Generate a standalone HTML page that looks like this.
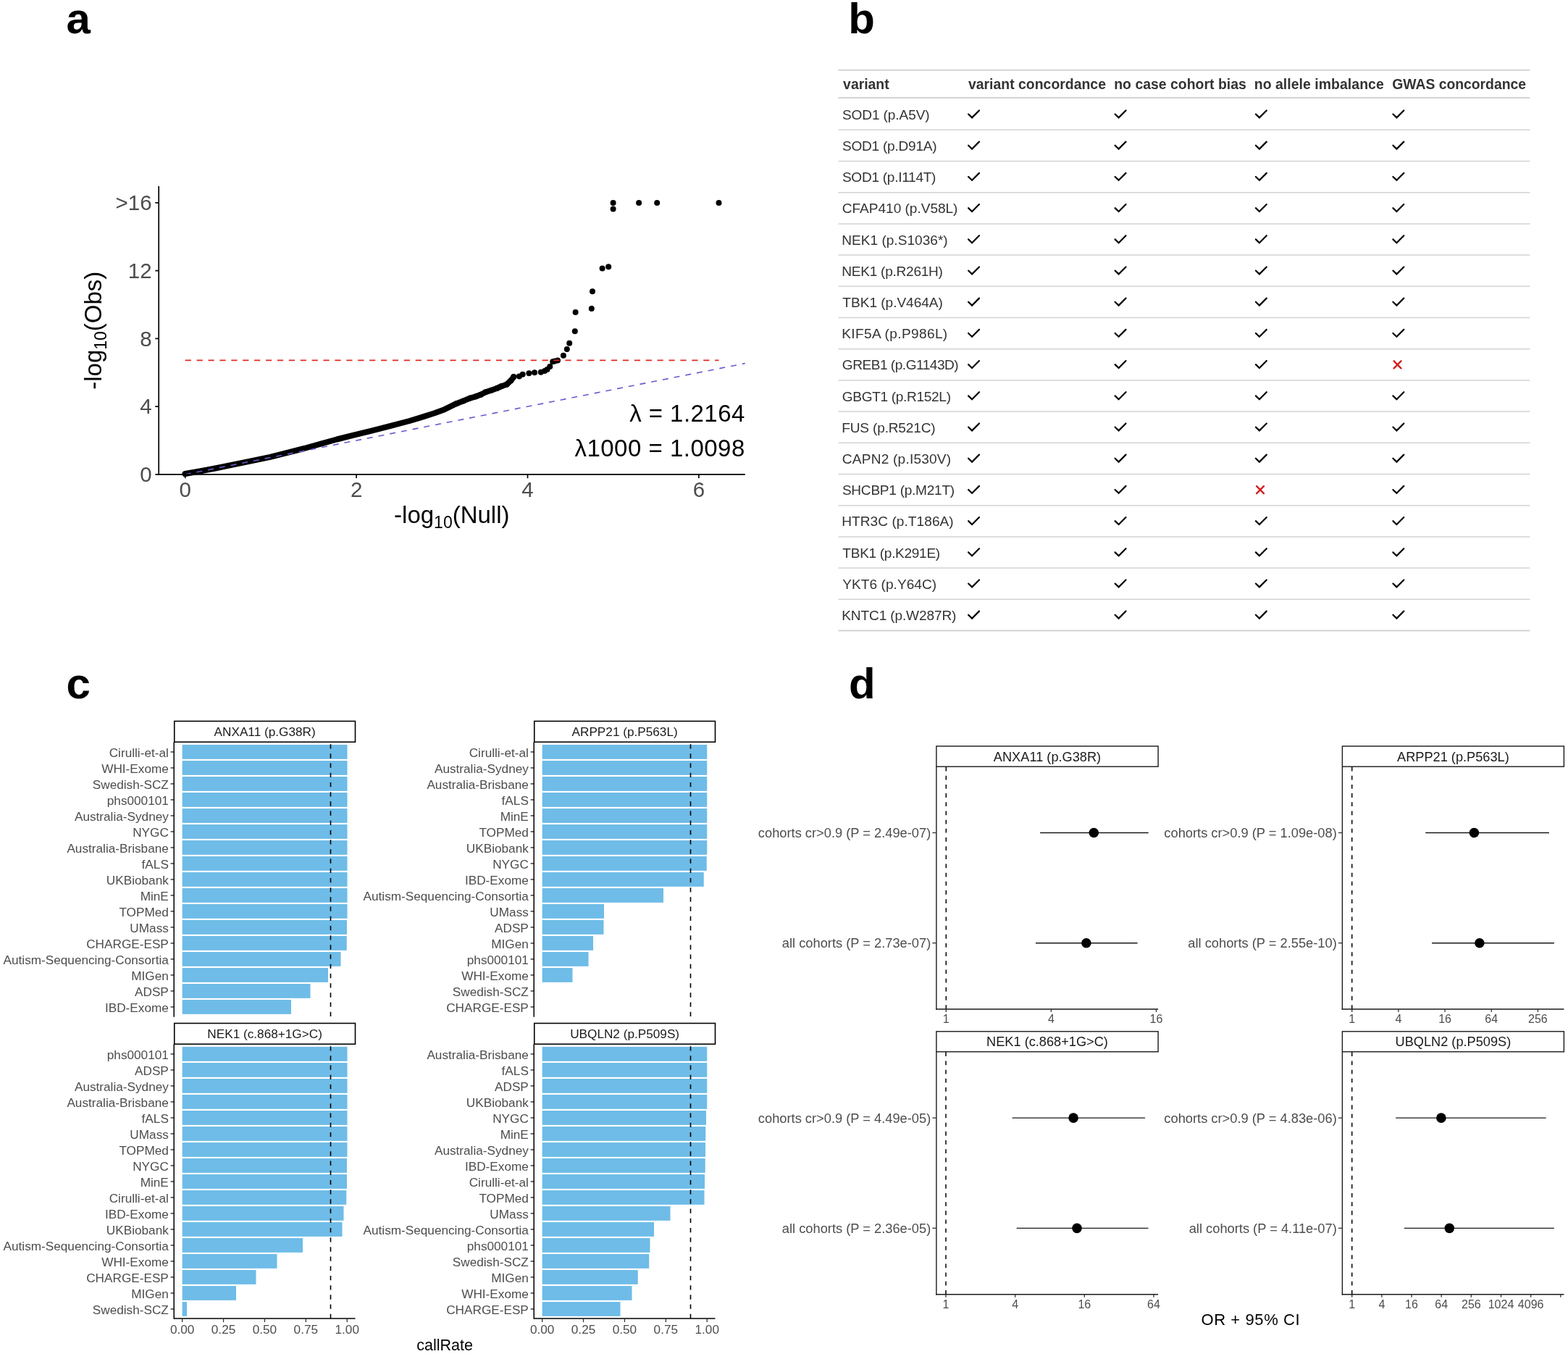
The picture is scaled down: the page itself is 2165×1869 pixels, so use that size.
<!DOCTYPE html>
<html><head><meta charset="utf-8"><title>Figure</title>
<style>
html,body{margin:0;padding:0;background:#fff;}
body{width:2165px;height:1869px;overflow:hidden;}
svg{display:block;font-family:'Liberation Sans', Arial, Helvetica, sans-serif;}
</style></head>
<body>
<svg width="2165" height="1869" viewBox="0 0 2165 1869">
<rect width="2165" height="1869" fill="#fff"/>
<text x="91.50" y="45.80" font-size="60" fill="#000" text-anchor="start" font-weight="bold">a</text>
<text x="1171.30" y="45.50" font-size="60" fill="#000" text-anchor="start" font-weight="bold">b</text>
<text x="91.50" y="963.60" font-size="60" fill="#000" text-anchor="start" font-weight="bold">c</text>
<text x="1172.00" y="963.60" font-size="60" fill="#000" text-anchor="start" font-weight="bold">d</text>
<polyline points="255.5,654.0 277.0,650.3 298.3,646.3 322.0,641.4 346.5,636.3 373.0,630.9 394.8,625.4 420.0,619.0 443.0,612.6 465.0,606.5 488.3,600.6 512.0,594.8 536.5,588.6 565.5,581.0 584.8,575.1 600.0,570.3 613.7,565.2 630.0,557.2 639.7,553.4 649.3,549.5 657.0,547.3 663.8,544.7 670.5,541.3 678.3,538.7 686.0,536.0 692.7,533.0 699.5,530.8 705.3,525.4 709.2,520.5" fill="none" stroke="#000" stroke-width="8.0" stroke-linejoin="round" stroke-linecap="round"/>
<circle cx="630.00" cy="557.20" r="4.0" fill="#000"/>
<circle cx="639.70" cy="553.40" r="4.0" fill="#000"/>
<circle cx="649.30" cy="549.50" r="4.0" fill="#000"/>
<circle cx="657.00" cy="547.30" r="4.0" fill="#000"/>
<circle cx="663.80" cy="544.70" r="4.0" fill="#000"/>
<circle cx="670.50" cy="541.30" r="4.0" fill="#000"/>
<circle cx="678.30" cy="538.70" r="4.0" fill="#000"/>
<circle cx="686.00" cy="536.00" r="4.0" fill="#000"/>
<circle cx="692.70" cy="533.00" r="4.0" fill="#000"/>
<circle cx="699.50" cy="530.80" r="4.0" fill="#000"/>
<circle cx="705.30" cy="525.40" r="4.0" fill="#000"/>
<circle cx="709.20" cy="520.10" r="4.0" fill="#000"/>
<circle cx="716.90" cy="519.60" r="4.0" fill="#000"/>
<circle cx="721.70" cy="516.70" r="4.0" fill="#000"/>
<circle cx="730.40" cy="515.20" r="4.0" fill="#000"/>
<circle cx="738.10" cy="514.30" r="4.0" fill="#000"/>
<circle cx="746.80" cy="513.80" r="4.0" fill="#000"/>
<circle cx="752.00" cy="512.00" r="4.0" fill="#000"/>
<circle cx="755.50" cy="509.90" r="4.0" fill="#000"/>
<circle cx="759.30" cy="506.10" r="4.0" fill="#000"/>
<circle cx="763.20" cy="499.30" r="4.0" fill="#000"/>
<circle cx="766.00" cy="498.50" r="4.0" fill="#000"/>
<circle cx="770.00" cy="497.40" r="4.0" fill="#000"/>
<circle cx="777.90" cy="490.70" r="4.0" fill="#000"/>
<circle cx="782.80" cy="482.00" r="4.0" fill="#000"/>
<circle cx="786.20" cy="473.70" r="4.0" fill="#000"/>
<circle cx="793.80" cy="457.20" r="4.0" fill="#000"/>
<circle cx="794.60" cy="431.10" r="4.0" fill="#000"/>
<circle cx="816.80" cy="425.90" r="4.0" fill="#000"/>
<circle cx="818.00" cy="402.30" r="4.0" fill="#000"/>
<circle cx="831.60" cy="370.40" r="4.0" fill="#000"/>
<circle cx="840.20" cy="368.20" r="4.0" fill="#000"/>
<circle cx="846.60" cy="288.40" r="4.0" fill="#000"/>
<circle cx="846.60" cy="280.00" r="4.0" fill="#000"/>
<circle cx="882.10" cy="280.00" r="4.0" fill="#000"/>
<circle cx="907.20" cy="280.00" r="4.0" fill="#000"/>
<circle cx="992.50" cy="280.00" r="4.0" fill="#000"/>
<line x1="255.70" y1="654.90" x2="1028.80" y2="501.59" stroke="#6A5ACD" stroke-width="1.6" stroke-dasharray="8,8"/>
<line x1="255.70" y1="497.40" x2="992.50" y2="497.40" stroke="#E02A20" stroke-width="1.9" stroke-dasharray="8.2,7.7"/>
<line x1="219.20" y1="257.00" x2="219.20" y2="655.70" stroke="#000" stroke-width="1.7"/>
<line x1="218.40" y1="654.90" x2="1028.80" y2="654.90" stroke="#000" stroke-width="1.7"/>
<line x1="214.30" y1="654.90" x2="219.20" y2="654.90" stroke="#000" stroke-width="1.7"/>
<text x="209.60" y="665.20" font-size="29.5" fill="#4D4D4D" text-anchor="end">0</text>
<line x1="214.30" y1="561.14" x2="219.20" y2="561.14" stroke="#000" stroke-width="1.7"/>
<text x="209.60" y="571.44" font-size="29.5" fill="#4D4D4D" text-anchor="end">4</text>
<line x1="214.30" y1="467.38" x2="219.20" y2="467.38" stroke="#000" stroke-width="1.7"/>
<text x="209.60" y="477.68" font-size="29.5" fill="#4D4D4D" text-anchor="end">8</text>
<line x1="214.30" y1="373.62" x2="219.20" y2="373.62" stroke="#000" stroke-width="1.7"/>
<text x="209.60" y="383.92" font-size="29.5" fill="#4D4D4D" text-anchor="end">12</text>
<line x1="214.30" y1="279.86" x2="219.20" y2="279.86" stroke="#000" stroke-width="1.7"/>
<text x="209.60" y="290.16" font-size="29.5" fill="#4D4D4D" text-anchor="end">&gt;16</text>
<line x1="255.70" y1="654.90" x2="255.70" y2="660.10" stroke="#000" stroke-width="1.7"/>
<text x="255.70" y="685.60" font-size="29.5" fill="#4D4D4D" text-anchor="middle">0</text>
<line x1="492.10" y1="654.90" x2="492.10" y2="660.10" stroke="#000" stroke-width="1.7"/>
<text x="492.10" y="685.60" font-size="29.5" fill="#4D4D4D" text-anchor="middle">2</text>
<line x1="728.50" y1="654.90" x2="728.50" y2="660.10" stroke="#000" stroke-width="1.7"/>
<text x="728.50" y="685.60" font-size="29.5" fill="#4D4D4D" text-anchor="middle">4</text>
<line x1="964.90" y1="654.90" x2="964.90" y2="660.10" stroke="#000" stroke-width="1.7"/>
<text x="964.90" y="685.60" font-size="29.5" fill="#4D4D4D" text-anchor="middle">6</text>
<text x="623.8" y="721.8" font-size="33" fill="#000" text-anchor="middle">-log<tspan font-size="23" dy="7">10</tspan><tspan dy="-7">(Null)</tspan></text>
<text transform="translate(140.3,456.2) rotate(-90)" font-size="33" fill="#000" text-anchor="middle">-log<tspan font-size="23" dy="7">10</tspan><tspan dy="-7">(Obs)</tspan></text>
<text x="1028.30" y="582.40" font-size="33" fill="#000" text-anchor="end" textLength="159.14" lengthAdjust="spacing">λ = 1.2164</text>
<text x="1028.30" y="629.90" font-size="33" fill="#000" text-anchor="end" textLength="234.86" lengthAdjust="spacing">λ1000 = 1.0098</text>
<line x1="1157.50" y1="96.80" x2="2112.50" y2="96.80" stroke="#D3D3D3" stroke-width="2"/>
<text x="1164.10" y="122.90" font-size="19.4" fill="#333333" text-anchor="start" font-weight="bold" textLength="63.58" lengthAdjust="spacing">variant</text>
<text x="1336.90" y="122.90" font-size="19.4" fill="#333333" text-anchor="start" font-weight="bold" textLength="190.05" lengthAdjust="spacing">variant concordance</text>
<text x="1538.24" y="122.90" font-size="19.4" fill="#333333" text-anchor="start" font-weight="bold" textLength="182.57" lengthAdjust="spacing">no case cohort bias</text>
<text x="1731.74" y="122.90" font-size="19.4" fill="#333333" text-anchor="start" font-weight="bold" textLength="178.95" lengthAdjust="spacing">no allele imbalance</text>
<text x="1922.22" y="122.90" font-size="19.4" fill="#333333" text-anchor="start" font-weight="bold" textLength="184.76" lengthAdjust="spacing">GWAS concordance</text>
<line x1="1157.50" y1="135.00" x2="2112.50" y2="135.00" stroke="#D3D3D3" stroke-width="2"/>
<text x="1162.89" y="164.80" font-size="19.1" fill="#333333" text-anchor="start" textLength="120.78" lengthAdjust="spacing">SOD1 (p.A5V)</text>
<path d="M1337.10,157.55 L1342.10,162.40 L1352.00,152.45" stroke="#000" stroke-width="2.2" stroke-linecap="round" stroke-linejoin="miter" fill="none"/>
<path d="M1539.60,157.55 L1544.60,162.40 L1554.50,152.45" stroke="#000" stroke-width="2.2" stroke-linecap="round" stroke-linejoin="miter" fill="none"/>
<path d="M1733.90,157.55 L1738.90,162.40 L1748.80,152.45" stroke="#000" stroke-width="2.2" stroke-linecap="round" stroke-linejoin="miter" fill="none"/>
<path d="M1923.40,157.55 L1928.40,162.40 L1938.30,152.45" stroke="#000" stroke-width="2.2" stroke-linecap="round" stroke-linejoin="miter" fill="none"/>
<line x1="1157.50" y1="179.30" x2="2112.50" y2="179.30" stroke="#D3D3D3" stroke-width="1.5"/>
<text x="1162.89" y="208.00" font-size="19.1" fill="#333333" text-anchor="start" textLength="130.81" lengthAdjust="spacing">SOD1 (p.D91A)</text>
<path d="M1337.10,200.75 L1342.10,205.60 L1352.00,195.65" stroke="#000" stroke-width="2.2" stroke-linecap="round" stroke-linejoin="miter" fill="none"/>
<path d="M1539.60,200.75 L1544.60,205.60 L1554.50,195.65" stroke="#000" stroke-width="2.2" stroke-linecap="round" stroke-linejoin="miter" fill="none"/>
<path d="M1733.90,200.75 L1738.90,205.60 L1748.80,195.65" stroke="#000" stroke-width="2.2" stroke-linecap="round" stroke-linejoin="miter" fill="none"/>
<path d="M1923.40,200.75 L1928.40,205.60 L1938.30,195.65" stroke="#000" stroke-width="2.2" stroke-linecap="round" stroke-linejoin="miter" fill="none"/>
<line x1="1157.50" y1="222.50" x2="2112.50" y2="222.50" stroke="#D3D3D3" stroke-width="1.5"/>
<text x="1162.89" y="251.20" font-size="19.1" fill="#333333" text-anchor="start" textLength="129.58" lengthAdjust="spacing">SOD1 (p.I114T)</text>
<path d="M1337.10,243.95 L1342.10,248.80 L1352.00,238.85" stroke="#000" stroke-width="2.2" stroke-linecap="round" stroke-linejoin="miter" fill="none"/>
<path d="M1539.60,243.95 L1544.60,248.80 L1554.50,238.85" stroke="#000" stroke-width="2.2" stroke-linecap="round" stroke-linejoin="miter" fill="none"/>
<path d="M1733.90,243.95 L1738.90,248.80 L1748.80,238.85" stroke="#000" stroke-width="2.2" stroke-linecap="round" stroke-linejoin="miter" fill="none"/>
<path d="M1923.40,243.95 L1928.40,248.80 L1938.30,238.85" stroke="#000" stroke-width="2.2" stroke-linecap="round" stroke-linejoin="miter" fill="none"/>
<line x1="1157.50" y1="265.70" x2="2112.50" y2="265.70" stroke="#D3D3D3" stroke-width="1.5"/>
<text x="1162.80" y="294.40" font-size="19.1" fill="#333333" text-anchor="start" textLength="159.68" lengthAdjust="spacing">CFAP410 (p.V58L)</text>
<path d="M1337.10,287.15 L1342.10,292.00 L1352.00,282.05" stroke="#000" stroke-width="2.2" stroke-linecap="round" stroke-linejoin="miter" fill="none"/>
<path d="M1539.60,287.15 L1544.60,292.00 L1554.50,282.05" stroke="#000" stroke-width="2.2" stroke-linecap="round" stroke-linejoin="miter" fill="none"/>
<path d="M1733.90,287.15 L1738.90,292.00 L1748.80,282.05" stroke="#000" stroke-width="2.2" stroke-linecap="round" stroke-linejoin="miter" fill="none"/>
<path d="M1923.40,287.15 L1928.40,292.00 L1938.30,282.05" stroke="#000" stroke-width="2.2" stroke-linecap="round" stroke-linejoin="miter" fill="none"/>
<line x1="1157.50" y1="308.90" x2="2112.50" y2="308.90" stroke="#D3D3D3" stroke-width="1.5"/>
<text x="1162.22" y="337.60" font-size="19.1" fill="#333333" text-anchor="start" textLength="146.45" lengthAdjust="spacing">NEK1 (p.S1036*)</text>
<path d="M1337.10,330.35 L1342.10,335.20 L1352.00,325.25" stroke="#000" stroke-width="2.2" stroke-linecap="round" stroke-linejoin="miter" fill="none"/>
<path d="M1539.60,330.35 L1544.60,335.20 L1554.50,325.25" stroke="#000" stroke-width="2.2" stroke-linecap="round" stroke-linejoin="miter" fill="none"/>
<path d="M1733.90,330.35 L1738.90,335.20 L1748.80,325.25" stroke="#000" stroke-width="2.2" stroke-linecap="round" stroke-linejoin="miter" fill="none"/>
<path d="M1923.40,330.35 L1928.40,335.20 L1938.30,325.25" stroke="#000" stroke-width="2.2" stroke-linecap="round" stroke-linejoin="miter" fill="none"/>
<line x1="1157.50" y1="352.10" x2="2112.50" y2="352.10" stroke="#D3D3D3" stroke-width="1.5"/>
<text x="1162.22" y="380.80" font-size="19.1" fill="#333333" text-anchor="start" textLength="139.74" lengthAdjust="spacing">NEK1 (p.R261H)</text>
<path d="M1337.10,373.55 L1342.10,378.40 L1352.00,368.45" stroke="#000" stroke-width="2.2" stroke-linecap="round" stroke-linejoin="miter" fill="none"/>
<path d="M1539.60,373.55 L1544.60,378.40 L1554.50,368.45" stroke="#000" stroke-width="2.2" stroke-linecap="round" stroke-linejoin="miter" fill="none"/>
<path d="M1733.90,373.55 L1738.90,378.40 L1748.80,368.45" stroke="#000" stroke-width="2.2" stroke-linecap="round" stroke-linejoin="miter" fill="none"/>
<path d="M1923.40,373.55 L1928.40,378.40 L1938.30,368.45" stroke="#000" stroke-width="2.2" stroke-linecap="round" stroke-linejoin="miter" fill="none"/>
<line x1="1157.50" y1="395.30" x2="2112.50" y2="395.30" stroke="#D3D3D3" stroke-width="1.5"/>
<text x="1163.37" y="424.00" font-size="19.1" fill="#333333" text-anchor="start" textLength="138.56" lengthAdjust="spacing">TBK1 (p.V464A)</text>
<path d="M1337.10,416.75 L1342.10,421.60 L1352.00,411.65" stroke="#000" stroke-width="2.2" stroke-linecap="round" stroke-linejoin="miter" fill="none"/>
<path d="M1539.60,416.75 L1544.60,421.60 L1554.50,411.65" stroke="#000" stroke-width="2.2" stroke-linecap="round" stroke-linejoin="miter" fill="none"/>
<path d="M1733.90,416.75 L1738.90,421.60 L1748.80,411.65" stroke="#000" stroke-width="2.2" stroke-linecap="round" stroke-linejoin="miter" fill="none"/>
<path d="M1923.40,416.75 L1928.40,421.60 L1938.30,411.65" stroke="#000" stroke-width="2.2" stroke-linecap="round" stroke-linejoin="miter" fill="none"/>
<line x1="1157.50" y1="438.50" x2="2112.50" y2="438.50" stroke="#D3D3D3" stroke-width="1.5"/>
<text x="1162.22" y="467.20" font-size="19.1" fill="#333333" text-anchor="start" textLength="145.99" lengthAdjust="spacing">KIF5A (p.P986L)</text>
<path d="M1337.10,459.95 L1342.10,464.80 L1352.00,454.85" stroke="#000" stroke-width="2.2" stroke-linecap="round" stroke-linejoin="miter" fill="none"/>
<path d="M1539.60,459.95 L1544.60,464.80 L1554.50,454.85" stroke="#000" stroke-width="2.2" stroke-linecap="round" stroke-linejoin="miter" fill="none"/>
<path d="M1733.90,459.95 L1738.90,464.80 L1748.80,454.85" stroke="#000" stroke-width="2.2" stroke-linecap="round" stroke-linejoin="miter" fill="none"/>
<path d="M1923.40,459.95 L1928.40,464.80 L1938.30,454.85" stroke="#000" stroke-width="2.2" stroke-linecap="round" stroke-linejoin="miter" fill="none"/>
<line x1="1157.50" y1="481.70" x2="2112.50" y2="481.70" stroke="#D3D3D3" stroke-width="1.5"/>
<text x="1162.80" y="510.40" font-size="19.1" fill="#333333" text-anchor="start" textLength="160.92" lengthAdjust="spacing">GREB1 (p.G1143D)</text>
<path d="M1337.10,503.15 L1342.10,508.00 L1352.00,498.05" stroke="#000" stroke-width="2.2" stroke-linecap="round" stroke-linejoin="miter" fill="none"/>
<path d="M1539.60,503.15 L1544.60,508.00 L1554.50,498.05" stroke="#000" stroke-width="2.2" stroke-linecap="round" stroke-linejoin="miter" fill="none"/>
<path d="M1733.90,503.15 L1738.90,508.00 L1748.80,498.05" stroke="#000" stroke-width="2.2" stroke-linecap="round" stroke-linejoin="miter" fill="none"/>
<path d="M1924.65,498.30 L1934.45,508.40 M1934.45,498.30 L1924.65,508.40" stroke="#D42020" stroke-width="2.4" stroke-linecap="round" fill="none"/>
<line x1="1157.50" y1="524.90" x2="2112.50" y2="524.90" stroke="#D3D3D3" stroke-width="1.5"/>
<text x="1162.80" y="553.60" font-size="19.1" fill="#333333" text-anchor="start" textLength="150.19" lengthAdjust="spacing">GBGT1 (p.R152L)</text>
<path d="M1337.10,546.35 L1342.10,551.20 L1352.00,541.25" stroke="#000" stroke-width="2.2" stroke-linecap="round" stroke-linejoin="miter" fill="none"/>
<path d="M1539.60,546.35 L1544.60,551.20 L1554.50,541.25" stroke="#000" stroke-width="2.2" stroke-linecap="round" stroke-linejoin="miter" fill="none"/>
<path d="M1733.90,546.35 L1738.90,551.20 L1748.80,541.25" stroke="#000" stroke-width="2.2" stroke-linecap="round" stroke-linejoin="miter" fill="none"/>
<path d="M1923.40,546.35 L1928.40,551.20 L1938.30,541.25" stroke="#000" stroke-width="2.2" stroke-linecap="round" stroke-linejoin="miter" fill="none"/>
<line x1="1157.50" y1="568.10" x2="2112.50" y2="568.10" stroke="#D3D3D3" stroke-width="1.5"/>
<text x="1162.22" y="596.80" font-size="19.1" fill="#333333" text-anchor="start" textLength="129.44" lengthAdjust="spacing">FUS (p.R521C)</text>
<path d="M1337.10,589.55 L1342.10,594.40 L1352.00,584.45" stroke="#000" stroke-width="2.2" stroke-linecap="round" stroke-linejoin="miter" fill="none"/>
<path d="M1539.60,589.55 L1544.60,594.40 L1554.50,584.45" stroke="#000" stroke-width="2.2" stroke-linecap="round" stroke-linejoin="miter" fill="none"/>
<path d="M1733.90,589.55 L1738.90,594.40 L1748.80,584.45" stroke="#000" stroke-width="2.2" stroke-linecap="round" stroke-linejoin="miter" fill="none"/>
<path d="M1923.40,589.55 L1928.40,594.40 L1938.30,584.45" stroke="#000" stroke-width="2.2" stroke-linecap="round" stroke-linejoin="miter" fill="none"/>
<line x1="1157.50" y1="611.30" x2="2112.50" y2="611.30" stroke="#D3D3D3" stroke-width="1.5"/>
<text x="1162.80" y="640.00" font-size="19.1" fill="#333333" text-anchor="start" textLength="150.37" lengthAdjust="spacing">CAPN2 (p.I530V)</text>
<path d="M1337.10,632.75 L1342.10,637.60 L1352.00,627.65" stroke="#000" stroke-width="2.2" stroke-linecap="round" stroke-linejoin="miter" fill="none"/>
<path d="M1539.60,632.75 L1544.60,637.60 L1554.50,627.65" stroke="#000" stroke-width="2.2" stroke-linecap="round" stroke-linejoin="miter" fill="none"/>
<path d="M1733.90,632.75 L1738.90,637.60 L1748.80,627.65" stroke="#000" stroke-width="2.2" stroke-linecap="round" stroke-linejoin="miter" fill="none"/>
<path d="M1923.40,632.75 L1928.40,637.60 L1938.30,627.65" stroke="#000" stroke-width="2.2" stroke-linecap="round" stroke-linejoin="miter" fill="none"/>
<line x1="1157.50" y1="654.50" x2="2112.50" y2="654.50" stroke="#D3D3D3" stroke-width="1.5"/>
<text x="1162.89" y="683.20" font-size="19.1" fill="#333333" text-anchor="start" textLength="155.27" lengthAdjust="spacing">SHCBP1 (p.M21T)</text>
<path d="M1337.10,675.95 L1342.10,680.80 L1352.00,670.85" stroke="#000" stroke-width="2.2" stroke-linecap="round" stroke-linejoin="miter" fill="none"/>
<path d="M1539.60,675.95 L1544.60,680.80 L1554.50,670.85" stroke="#000" stroke-width="2.2" stroke-linecap="round" stroke-linejoin="miter" fill="none"/>
<path d="M1735.15,671.10 L1744.95,681.20 M1744.95,671.10 L1735.15,681.20" stroke="#D42020" stroke-width="2.4" stroke-linecap="round" fill="none"/>
<path d="M1923.40,675.95 L1928.40,680.80 L1938.30,670.85" stroke="#000" stroke-width="2.2" stroke-linecap="round" stroke-linejoin="miter" fill="none"/>
<line x1="1157.50" y1="697.70" x2="2112.50" y2="697.70" stroke="#D3D3D3" stroke-width="1.5"/>
<text x="1162.22" y="726.40" font-size="19.1" fill="#333333" text-anchor="start" textLength="154.48" lengthAdjust="spacing">HTR3C (p.T186A)</text>
<path d="M1337.10,719.15 L1342.10,724.00 L1352.00,714.05" stroke="#000" stroke-width="2.2" stroke-linecap="round" stroke-linejoin="miter" fill="none"/>
<path d="M1539.60,719.15 L1544.60,724.00 L1554.50,714.05" stroke="#000" stroke-width="2.2" stroke-linecap="round" stroke-linejoin="miter" fill="none"/>
<path d="M1733.90,719.15 L1738.90,724.00 L1748.80,714.05" stroke="#000" stroke-width="2.2" stroke-linecap="round" stroke-linejoin="miter" fill="none"/>
<path d="M1923.40,719.15 L1928.40,724.00 L1938.30,714.05" stroke="#000" stroke-width="2.2" stroke-linecap="round" stroke-linejoin="miter" fill="none"/>
<line x1="1157.50" y1="740.90" x2="2112.50" y2="740.90" stroke="#D3D3D3" stroke-width="1.5"/>
<text x="1163.37" y="769.60" font-size="19.1" fill="#333333" text-anchor="start" textLength="134.81" lengthAdjust="spacing">TBK1 (p.K291E)</text>
<path d="M1337.10,762.35 L1342.10,767.20 L1352.00,757.25" stroke="#000" stroke-width="2.2" stroke-linecap="round" stroke-linejoin="miter" fill="none"/>
<path d="M1539.60,762.35 L1544.60,767.20 L1554.50,757.25" stroke="#000" stroke-width="2.2" stroke-linecap="round" stroke-linejoin="miter" fill="none"/>
<path d="M1733.90,762.35 L1738.90,767.20 L1748.80,757.25" stroke="#000" stroke-width="2.2" stroke-linecap="round" stroke-linejoin="miter" fill="none"/>
<path d="M1923.40,762.35 L1928.40,767.20 L1938.30,757.25" stroke="#000" stroke-width="2.2" stroke-linecap="round" stroke-linejoin="miter" fill="none"/>
<line x1="1157.50" y1="784.10" x2="2112.50" y2="784.10" stroke="#D3D3D3" stroke-width="1.5"/>
<text x="1163.27" y="812.80" font-size="19.1" fill="#333333" text-anchor="start" textLength="129.88" lengthAdjust="spacing">YKT6 (p.Y64C)</text>
<path d="M1337.10,805.55 L1342.10,810.40 L1352.00,800.45" stroke="#000" stroke-width="2.2" stroke-linecap="round" stroke-linejoin="miter" fill="none"/>
<path d="M1539.60,805.55 L1544.60,810.40 L1554.50,800.45" stroke="#000" stroke-width="2.2" stroke-linecap="round" stroke-linejoin="miter" fill="none"/>
<path d="M1733.90,805.55 L1738.90,810.40 L1748.80,800.45" stroke="#000" stroke-width="2.2" stroke-linecap="round" stroke-linejoin="miter" fill="none"/>
<path d="M1923.40,805.55 L1928.40,810.40 L1938.30,800.45" stroke="#000" stroke-width="2.2" stroke-linecap="round" stroke-linejoin="miter" fill="none"/>
<line x1="1157.50" y1="827.30" x2="2112.50" y2="827.30" stroke="#D3D3D3" stroke-width="1.5"/>
<text x="1162.22" y="856.00" font-size="19.1" fill="#333333" text-anchor="start" textLength="158.19" lengthAdjust="spacing">KNTC1 (p.W287R)</text>
<path d="M1337.10,848.75 L1342.10,853.60 L1352.00,843.65" stroke="#000" stroke-width="2.2" stroke-linecap="round" stroke-linejoin="miter" fill="none"/>
<path d="M1539.60,848.75 L1544.60,853.60 L1554.50,843.65" stroke="#000" stroke-width="2.2" stroke-linecap="round" stroke-linejoin="miter" fill="none"/>
<path d="M1733.90,848.75 L1738.90,853.60 L1748.80,843.65" stroke="#000" stroke-width="2.2" stroke-linecap="round" stroke-linejoin="miter" fill="none"/>
<path d="M1923.40,848.75 L1928.40,853.60 L1938.30,843.65" stroke="#000" stroke-width="2.2" stroke-linecap="round" stroke-linejoin="miter" fill="none"/>
<line x1="1157.50" y1="870.50" x2="2112.50" y2="870.50" stroke="#D3D3D3" stroke-width="2"/>
<rect x="240.75" y="995.50" width="249.75" height="28.75" fill="#fff" stroke="#000" stroke-width="1.6"/>
<text x="365.62" y="1016.08" font-size="17.2" fill="#1A1A1A" text-anchor="middle">ANXA11 (p.G38R)</text>
<rect x="251.65" y="1028.05" width="227.85" height="19.80" fill="#6EBCE7"/>
<line x1="235.55" y1="1037.95" x2="240.75" y2="1037.95" stroke="#333" stroke-width="1.4"/>
<text x="232.85" y="1044.95" font-size="17.2" fill="#4D4D4D" text-anchor="end">Cirulli-et-al</text>
<rect x="251.65" y="1050.05" width="227.85" height="19.80" fill="#6EBCE7"/>
<line x1="235.55" y1="1059.95" x2="240.75" y2="1059.95" stroke="#333" stroke-width="1.4"/>
<text x="232.85" y="1066.95" font-size="17.2" fill="#4D4D4D" text-anchor="end">WHI-Exome</text>
<rect x="251.65" y="1072.05" width="227.85" height="19.80" fill="#6EBCE7"/>
<line x1="235.55" y1="1081.95" x2="240.75" y2="1081.95" stroke="#333" stroke-width="1.4"/>
<text x="232.85" y="1088.95" font-size="17.2" fill="#4D4D4D" text-anchor="end">Swedish-SCZ</text>
<rect x="251.65" y="1094.05" width="227.85" height="19.80" fill="#6EBCE7"/>
<line x1="235.55" y1="1103.95" x2="240.75" y2="1103.95" stroke="#333" stroke-width="1.4"/>
<text x="232.85" y="1110.95" font-size="17.2" fill="#4D4D4D" text-anchor="end">phs000101</text>
<rect x="251.65" y="1116.05" width="227.85" height="19.80" fill="#6EBCE7"/>
<line x1="235.55" y1="1125.95" x2="240.75" y2="1125.95" stroke="#333" stroke-width="1.4"/>
<text x="232.85" y="1132.95" font-size="17.2" fill="#4D4D4D" text-anchor="end">Australia-Sydney</text>
<rect x="251.65" y="1138.05" width="227.85" height="19.80" fill="#6EBCE7"/>
<line x1="235.55" y1="1147.95" x2="240.75" y2="1147.95" stroke="#333" stroke-width="1.4"/>
<text x="232.85" y="1154.95" font-size="17.2" fill="#4D4D4D" text-anchor="end">NYGC</text>
<rect x="251.65" y="1160.05" width="227.85" height="19.80" fill="#6EBCE7"/>
<line x1="235.55" y1="1169.95" x2="240.75" y2="1169.95" stroke="#333" stroke-width="1.4"/>
<text x="232.85" y="1176.95" font-size="17.2" fill="#4D4D4D" text-anchor="end">Australia-Brisbane</text>
<rect x="251.65" y="1182.05" width="227.85" height="19.80" fill="#6EBCE7"/>
<line x1="235.55" y1="1191.95" x2="240.75" y2="1191.95" stroke="#333" stroke-width="1.4"/>
<text x="232.85" y="1198.95" font-size="17.2" fill="#4D4D4D" text-anchor="end">fALS</text>
<rect x="251.65" y="1204.05" width="227.85" height="19.80" fill="#6EBCE7"/>
<line x1="235.55" y1="1213.95" x2="240.75" y2="1213.95" stroke="#333" stroke-width="1.4"/>
<text x="232.85" y="1220.95" font-size="17.2" fill="#4D4D4D" text-anchor="end">UKBiobank</text>
<rect x="251.65" y="1226.05" width="227.85" height="19.80" fill="#6EBCE7"/>
<line x1="235.55" y1="1235.95" x2="240.75" y2="1235.95" stroke="#333" stroke-width="1.4"/>
<text x="232.85" y="1242.95" font-size="17.2" fill="#4D4D4D" text-anchor="end">MinE</text>
<rect x="251.65" y="1248.05" width="227.85" height="19.80" fill="#6EBCE7"/>
<line x1="235.55" y1="1257.95" x2="240.75" y2="1257.95" stroke="#333" stroke-width="1.4"/>
<text x="232.85" y="1264.95" font-size="17.2" fill="#4D4D4D" text-anchor="end">TOPMed</text>
<rect x="251.65" y="1270.05" width="227.35" height="19.80" fill="#6EBCE7"/>
<line x1="235.55" y1="1279.95" x2="240.75" y2="1279.95" stroke="#333" stroke-width="1.4"/>
<text x="232.85" y="1286.95" font-size="17.2" fill="#4D4D4D" text-anchor="end">UMass</text>
<rect x="251.65" y="1292.05" width="227.10" height="19.80" fill="#6EBCE7"/>
<line x1="235.55" y1="1301.95" x2="240.75" y2="1301.95" stroke="#333" stroke-width="1.4"/>
<text x="232.85" y="1308.95" font-size="17.2" fill="#4D4D4D" text-anchor="end">CHARGE-ESP</text>
<rect x="251.65" y="1314.05" width="218.85" height="19.80" fill="#6EBCE7"/>
<line x1="235.55" y1="1323.95" x2="240.75" y2="1323.95" stroke="#333" stroke-width="1.4"/>
<text x="232.85" y="1330.95" font-size="17.2" fill="#4D4D4D" text-anchor="end">Autism-Sequencing-Consortia</text>
<rect x="251.65" y="1336.05" width="201.35" height="19.80" fill="#6EBCE7"/>
<line x1="235.55" y1="1345.95" x2="240.75" y2="1345.95" stroke="#333" stroke-width="1.4"/>
<text x="232.85" y="1352.95" font-size="17.2" fill="#4D4D4D" text-anchor="end">MIGen</text>
<rect x="251.65" y="1358.05" width="176.85" height="19.80" fill="#6EBCE7"/>
<line x1="235.55" y1="1367.95" x2="240.75" y2="1367.95" stroke="#333" stroke-width="1.4"/>
<text x="232.85" y="1374.95" font-size="17.2" fill="#4D4D4D" text-anchor="end">ADSP</text>
<rect x="251.65" y="1380.05" width="150.35" height="19.80" fill="#6EBCE7"/>
<line x1="235.55" y1="1389.95" x2="240.75" y2="1389.95" stroke="#333" stroke-width="1.4"/>
<text x="232.85" y="1396.95" font-size="17.2" fill="#4D4D4D" text-anchor="end">IBD-Exome</text>
<line x1="456.49" y1="1403.05" x2="456.49" y2="1024.25" stroke="#000" stroke-width="1.6" stroke-dasharray="6.3,6.9"/>
<line x1="240.25" y1="1024.25" x2="240.25" y2="1403.85" stroke="#000" stroke-width="1.5"/>
<rect x="737.75" y="995.50" width="249.75" height="28.75" fill="#fff" stroke="#000" stroke-width="1.6"/>
<text x="862.62" y="1016.08" font-size="17.2" fill="#1A1A1A" text-anchor="middle">ARPP21 (p.P563L)</text>
<rect x="748.65" y="1028.05" width="227.60" height="19.80" fill="#6EBCE7"/>
<line x1="732.55" y1="1037.95" x2="737.75" y2="1037.95" stroke="#333" stroke-width="1.4"/>
<text x="729.85" y="1044.95" font-size="17.2" fill="#4D4D4D" text-anchor="end">Cirulli-et-al</text>
<rect x="748.65" y="1050.05" width="227.60" height="19.80" fill="#6EBCE7"/>
<line x1="732.55" y1="1059.95" x2="737.75" y2="1059.95" stroke="#333" stroke-width="1.4"/>
<text x="729.85" y="1066.95" font-size="17.2" fill="#4D4D4D" text-anchor="end">Australia-Sydney</text>
<rect x="748.65" y="1072.05" width="227.60" height="19.80" fill="#6EBCE7"/>
<line x1="732.55" y1="1081.95" x2="737.75" y2="1081.95" stroke="#333" stroke-width="1.4"/>
<text x="729.85" y="1088.95" font-size="17.2" fill="#4D4D4D" text-anchor="end">Australia-Brisbane</text>
<rect x="748.65" y="1094.05" width="227.60" height="19.80" fill="#6EBCE7"/>
<line x1="732.55" y1="1103.95" x2="737.75" y2="1103.95" stroke="#333" stroke-width="1.4"/>
<text x="729.85" y="1110.95" font-size="17.2" fill="#4D4D4D" text-anchor="end">fALS</text>
<rect x="748.65" y="1116.05" width="227.60" height="19.80" fill="#6EBCE7"/>
<line x1="732.55" y1="1125.95" x2="737.75" y2="1125.95" stroke="#333" stroke-width="1.4"/>
<text x="729.85" y="1132.95" font-size="17.2" fill="#4D4D4D" text-anchor="end">MinE</text>
<rect x="748.65" y="1138.05" width="227.60" height="19.80" fill="#6EBCE7"/>
<line x1="732.55" y1="1147.95" x2="737.75" y2="1147.95" stroke="#333" stroke-width="1.4"/>
<text x="729.85" y="1154.95" font-size="17.2" fill="#4D4D4D" text-anchor="end">TOPMed</text>
<rect x="748.65" y="1160.05" width="227.60" height="19.80" fill="#6EBCE7"/>
<line x1="732.55" y1="1169.95" x2="737.75" y2="1169.95" stroke="#333" stroke-width="1.4"/>
<text x="729.85" y="1176.95" font-size="17.2" fill="#4D4D4D" text-anchor="end">UKBiobank</text>
<rect x="748.65" y="1182.05" width="227.10" height="19.80" fill="#6EBCE7"/>
<line x1="732.55" y1="1191.95" x2="737.75" y2="1191.95" stroke="#333" stroke-width="1.4"/>
<text x="729.85" y="1198.95" font-size="17.2" fill="#4D4D4D" text-anchor="end">NYGC</text>
<rect x="748.65" y="1204.05" width="223.10" height="19.80" fill="#6EBCE7"/>
<line x1="732.55" y1="1213.95" x2="737.75" y2="1213.95" stroke="#333" stroke-width="1.4"/>
<text x="729.85" y="1220.95" font-size="17.2" fill="#4D4D4D" text-anchor="end">IBD-Exome</text>
<rect x="748.65" y="1226.05" width="167.35" height="19.80" fill="#6EBCE7"/>
<line x1="732.55" y1="1235.95" x2="737.75" y2="1235.95" stroke="#333" stroke-width="1.4"/>
<text x="729.85" y="1242.95" font-size="17.2" fill="#4D4D4D" text-anchor="end">Autism-Sequencing-Consortia</text>
<rect x="748.65" y="1248.05" width="85.35" height="19.80" fill="#6EBCE7"/>
<line x1="732.55" y1="1257.95" x2="737.75" y2="1257.95" stroke="#333" stroke-width="1.4"/>
<text x="729.85" y="1264.95" font-size="17.2" fill="#4D4D4D" text-anchor="end">UMass</text>
<rect x="748.65" y="1270.05" width="84.85" height="19.80" fill="#6EBCE7"/>
<line x1="732.55" y1="1279.95" x2="737.75" y2="1279.95" stroke="#333" stroke-width="1.4"/>
<text x="729.85" y="1286.95" font-size="17.2" fill="#4D4D4D" text-anchor="end">ADSP</text>
<rect x="748.65" y="1292.05" width="70.35" height="19.80" fill="#6EBCE7"/>
<line x1="732.55" y1="1301.95" x2="737.75" y2="1301.95" stroke="#333" stroke-width="1.4"/>
<text x="729.85" y="1308.95" font-size="17.2" fill="#4D4D4D" text-anchor="end">MIGen</text>
<rect x="748.65" y="1314.05" width="63.85" height="19.80" fill="#6EBCE7"/>
<line x1="732.55" y1="1323.95" x2="737.75" y2="1323.95" stroke="#333" stroke-width="1.4"/>
<text x="729.85" y="1330.95" font-size="17.2" fill="#4D4D4D" text-anchor="end">phs000101</text>
<rect x="748.65" y="1336.05" width="41.85" height="19.80" fill="#6EBCE7"/>
<line x1="732.55" y1="1345.95" x2="737.75" y2="1345.95" stroke="#333" stroke-width="1.4"/>
<text x="729.85" y="1352.95" font-size="17.2" fill="#4D4D4D" text-anchor="end">WHI-Exome</text>
<line x1="732.55" y1="1367.95" x2="737.75" y2="1367.95" stroke="#333" stroke-width="1.4"/>
<text x="729.85" y="1374.95" font-size="17.2" fill="#4D4D4D" text-anchor="end">Swedish-SCZ</text>
<line x1="732.55" y1="1389.95" x2="737.75" y2="1389.95" stroke="#333" stroke-width="1.4"/>
<text x="729.85" y="1396.95" font-size="17.2" fill="#4D4D4D" text-anchor="end">CHARGE-ESP</text>
<line x1="953.49" y1="1403.05" x2="953.49" y2="1024.25" stroke="#000" stroke-width="1.6" stroke-dasharray="6.3,6.9"/>
<line x1="737.25" y1="1024.25" x2="737.25" y2="1403.85" stroke="#000" stroke-width="1.5"/>
<rect x="240.75" y="1412.50" width="249.75" height="28.75" fill="#fff" stroke="#000" stroke-width="1.6"/>
<text x="365.62" y="1433.08" font-size="17.2" fill="#1A1A1A" text-anchor="middle">NEK1 (c.868+1G&gt;C)</text>
<rect x="251.65" y="1445.05" width="227.85" height="19.80" fill="#6EBCE7"/>
<line x1="235.55" y1="1454.95" x2="240.75" y2="1454.95" stroke="#333" stroke-width="1.4"/>
<text x="232.85" y="1461.95" font-size="17.2" fill="#4D4D4D" text-anchor="end">phs000101</text>
<rect x="251.65" y="1467.05" width="227.85" height="19.80" fill="#6EBCE7"/>
<line x1="235.55" y1="1476.95" x2="240.75" y2="1476.95" stroke="#333" stroke-width="1.4"/>
<text x="232.85" y="1483.95" font-size="17.2" fill="#4D4D4D" text-anchor="end">ADSP</text>
<rect x="251.65" y="1489.05" width="227.85" height="19.80" fill="#6EBCE7"/>
<line x1="235.55" y1="1498.95" x2="240.75" y2="1498.95" stroke="#333" stroke-width="1.4"/>
<text x="232.85" y="1505.95" font-size="17.2" fill="#4D4D4D" text-anchor="end">Australia-Sydney</text>
<rect x="251.65" y="1511.05" width="227.85" height="19.80" fill="#6EBCE7"/>
<line x1="235.55" y1="1520.95" x2="240.75" y2="1520.95" stroke="#333" stroke-width="1.4"/>
<text x="232.85" y="1527.95" font-size="17.2" fill="#4D4D4D" text-anchor="end">Australia-Brisbane</text>
<rect x="251.65" y="1533.05" width="227.85" height="19.80" fill="#6EBCE7"/>
<line x1="235.55" y1="1542.95" x2="240.75" y2="1542.95" stroke="#333" stroke-width="1.4"/>
<text x="232.85" y="1549.95" font-size="17.2" fill="#4D4D4D" text-anchor="end">fALS</text>
<rect x="251.65" y="1555.05" width="227.85" height="19.80" fill="#6EBCE7"/>
<line x1="235.55" y1="1564.95" x2="240.75" y2="1564.95" stroke="#333" stroke-width="1.4"/>
<text x="232.85" y="1571.95" font-size="17.2" fill="#4D4D4D" text-anchor="end">UMass</text>
<rect x="251.65" y="1577.05" width="227.85" height="19.80" fill="#6EBCE7"/>
<line x1="235.55" y1="1586.95" x2="240.75" y2="1586.95" stroke="#333" stroke-width="1.4"/>
<text x="232.85" y="1593.95" font-size="17.2" fill="#4D4D4D" text-anchor="end">TOPMed</text>
<rect x="251.65" y="1599.05" width="227.35" height="19.80" fill="#6EBCE7"/>
<line x1="235.55" y1="1608.95" x2="240.75" y2="1608.95" stroke="#333" stroke-width="1.4"/>
<text x="232.85" y="1615.95" font-size="17.2" fill="#4D4D4D" text-anchor="end">NYGC</text>
<rect x="251.65" y="1621.05" width="227.35" height="19.80" fill="#6EBCE7"/>
<line x1="235.55" y1="1630.95" x2="240.75" y2="1630.95" stroke="#333" stroke-width="1.4"/>
<text x="232.85" y="1637.95" font-size="17.2" fill="#4D4D4D" text-anchor="end">MinE</text>
<rect x="251.65" y="1643.05" width="226.60" height="19.80" fill="#6EBCE7"/>
<line x1="235.55" y1="1652.95" x2="240.75" y2="1652.95" stroke="#333" stroke-width="1.4"/>
<text x="232.85" y="1659.95" font-size="17.2" fill="#4D4D4D" text-anchor="end">Cirulli-et-al</text>
<rect x="251.65" y="1665.05" width="222.85" height="19.80" fill="#6EBCE7"/>
<line x1="235.55" y1="1674.95" x2="240.75" y2="1674.95" stroke="#333" stroke-width="1.4"/>
<text x="232.85" y="1681.95" font-size="17.2" fill="#4D4D4D" text-anchor="end">IBD-Exome</text>
<rect x="251.65" y="1687.05" width="220.85" height="19.80" fill="#6EBCE7"/>
<line x1="235.55" y1="1696.95" x2="240.75" y2="1696.95" stroke="#333" stroke-width="1.4"/>
<text x="232.85" y="1703.95" font-size="17.2" fill="#4D4D4D" text-anchor="end">UKBiobank</text>
<rect x="251.65" y="1709.05" width="166.35" height="19.80" fill="#6EBCE7"/>
<line x1="235.55" y1="1718.95" x2="240.75" y2="1718.95" stroke="#333" stroke-width="1.4"/>
<text x="232.85" y="1725.95" font-size="17.2" fill="#4D4D4D" text-anchor="end">Autism-Sequencing-Consortia</text>
<rect x="251.65" y="1731.05" width="130.85" height="19.80" fill="#6EBCE7"/>
<line x1="235.55" y1="1740.95" x2="240.75" y2="1740.95" stroke="#333" stroke-width="1.4"/>
<text x="232.85" y="1747.95" font-size="17.2" fill="#4D4D4D" text-anchor="end">WHI-Exome</text>
<rect x="251.65" y="1753.05" width="101.85" height="19.80" fill="#6EBCE7"/>
<line x1="235.55" y1="1762.95" x2="240.75" y2="1762.95" stroke="#333" stroke-width="1.4"/>
<text x="232.85" y="1769.95" font-size="17.2" fill="#4D4D4D" text-anchor="end">CHARGE-ESP</text>
<rect x="251.65" y="1775.05" width="74.35" height="19.80" fill="#6EBCE7"/>
<line x1="235.55" y1="1784.95" x2="240.75" y2="1784.95" stroke="#333" stroke-width="1.4"/>
<text x="232.85" y="1791.95" font-size="17.2" fill="#4D4D4D" text-anchor="end">MIGen</text>
<rect x="251.65" y="1797.05" width="6.35" height="19.80" fill="#6EBCE7"/>
<line x1="235.55" y1="1806.95" x2="240.75" y2="1806.95" stroke="#333" stroke-width="1.4"/>
<text x="232.85" y="1813.95" font-size="17.2" fill="#4D4D4D" text-anchor="end">Swedish-SCZ</text>
<line x1="456.49" y1="1820.05" x2="456.49" y2="1441.25" stroke="#000" stroke-width="1.6" stroke-dasharray="6.3,6.9"/>
<line x1="240.25" y1="1441.25" x2="240.25" y2="1820.80" stroke="#000" stroke-width="1.5"/>
<line x1="240.25" y1="1820.05" x2="490.50" y2="1820.05" stroke="#000" stroke-width="1.5"/>
<line x1="251.65" y1="1820.05" x2="251.65" y2="1825.05" stroke="#333" stroke-width="1.3"/>
<text x="251.65" y="1840.55" font-size="17.2" fill="#4D4D4D" text-anchor="middle">0.00</text>
<line x1="308.55" y1="1820.05" x2="308.55" y2="1825.05" stroke="#333" stroke-width="1.3"/>
<text x="308.55" y="1840.55" font-size="17.2" fill="#4D4D4D" text-anchor="middle">0.25</text>
<line x1="365.45" y1="1820.05" x2="365.45" y2="1825.05" stroke="#333" stroke-width="1.3"/>
<text x="365.45" y="1840.55" font-size="17.2" fill="#4D4D4D" text-anchor="middle">0.50</text>
<line x1="422.35" y1="1820.05" x2="422.35" y2="1825.05" stroke="#333" stroke-width="1.3"/>
<text x="422.35" y="1840.55" font-size="17.2" fill="#4D4D4D" text-anchor="middle">0.75</text>
<line x1="479.25" y1="1820.05" x2="479.25" y2="1825.05" stroke="#333" stroke-width="1.3"/>
<text x="479.25" y="1840.55" font-size="17.2" fill="#4D4D4D" text-anchor="middle">1.00</text>
<rect x="737.75" y="1412.50" width="249.75" height="28.75" fill="#fff" stroke="#000" stroke-width="1.6"/>
<text x="862.62" y="1433.08" font-size="17.2" fill="#1A1A1A" text-anchor="middle">UBQLN2 (p.P509S)</text>
<rect x="748.65" y="1445.05" width="227.60" height="19.80" fill="#6EBCE7"/>
<line x1="732.55" y1="1454.95" x2="737.75" y2="1454.95" stroke="#333" stroke-width="1.4"/>
<text x="729.85" y="1461.95" font-size="17.2" fill="#4D4D4D" text-anchor="end">Australia-Brisbane</text>
<rect x="748.65" y="1467.05" width="227.60" height="19.80" fill="#6EBCE7"/>
<line x1="732.55" y1="1476.95" x2="737.75" y2="1476.95" stroke="#333" stroke-width="1.4"/>
<text x="729.85" y="1483.95" font-size="17.2" fill="#4D4D4D" text-anchor="end">fALS</text>
<rect x="748.65" y="1489.05" width="227.60" height="19.80" fill="#6EBCE7"/>
<line x1="732.55" y1="1498.95" x2="737.75" y2="1498.95" stroke="#333" stroke-width="1.4"/>
<text x="729.85" y="1505.95" font-size="17.2" fill="#4D4D4D" text-anchor="end">ADSP</text>
<rect x="748.65" y="1511.05" width="227.60" height="19.80" fill="#6EBCE7"/>
<line x1="732.55" y1="1520.95" x2="737.75" y2="1520.95" stroke="#333" stroke-width="1.4"/>
<text x="729.85" y="1527.95" font-size="17.2" fill="#4D4D4D" text-anchor="end">UKBiobank</text>
<rect x="748.65" y="1533.05" width="226.35" height="19.80" fill="#6EBCE7"/>
<line x1="732.55" y1="1542.95" x2="737.75" y2="1542.95" stroke="#333" stroke-width="1.4"/>
<text x="729.85" y="1549.95" font-size="17.2" fill="#4D4D4D" text-anchor="end">NYGC</text>
<rect x="748.65" y="1555.05" width="225.60" height="19.80" fill="#6EBCE7"/>
<line x1="732.55" y1="1564.95" x2="737.75" y2="1564.95" stroke="#333" stroke-width="1.4"/>
<text x="729.85" y="1571.95" font-size="17.2" fill="#4D4D4D" text-anchor="end">MinE</text>
<rect x="748.65" y="1577.05" width="225.35" height="19.80" fill="#6EBCE7"/>
<line x1="732.55" y1="1586.95" x2="737.75" y2="1586.95" stroke="#333" stroke-width="1.4"/>
<text x="729.85" y="1593.95" font-size="17.2" fill="#4D4D4D" text-anchor="end">Australia-Sydney</text>
<rect x="748.65" y="1599.05" width="225.10" height="19.80" fill="#6EBCE7"/>
<line x1="732.55" y1="1608.95" x2="737.75" y2="1608.95" stroke="#333" stroke-width="1.4"/>
<text x="729.85" y="1615.95" font-size="17.2" fill="#4D4D4D" text-anchor="end">IBD-Exome</text>
<rect x="748.65" y="1621.05" width="224.35" height="19.80" fill="#6EBCE7"/>
<line x1="732.55" y1="1630.95" x2="737.75" y2="1630.95" stroke="#333" stroke-width="1.4"/>
<text x="729.85" y="1637.95" font-size="17.2" fill="#4D4D4D" text-anchor="end">Cirulli-et-al</text>
<rect x="748.65" y="1643.05" width="223.85" height="19.80" fill="#6EBCE7"/>
<line x1="732.55" y1="1652.95" x2="737.75" y2="1652.95" stroke="#333" stroke-width="1.4"/>
<text x="729.85" y="1659.95" font-size="17.2" fill="#4D4D4D" text-anchor="end">TOPMed</text>
<rect x="748.65" y="1665.05" width="176.85" height="19.80" fill="#6EBCE7"/>
<line x1="732.55" y1="1674.95" x2="737.75" y2="1674.95" stroke="#333" stroke-width="1.4"/>
<text x="729.85" y="1681.95" font-size="17.2" fill="#4D4D4D" text-anchor="end">UMass</text>
<rect x="748.65" y="1687.05" width="154.35" height="19.80" fill="#6EBCE7"/>
<line x1="732.55" y1="1696.95" x2="737.75" y2="1696.95" stroke="#333" stroke-width="1.4"/>
<text x="729.85" y="1703.95" font-size="17.2" fill="#4D4D4D" text-anchor="end">Autism-Sequencing-Consortia</text>
<rect x="748.65" y="1709.05" width="148.85" height="19.80" fill="#6EBCE7"/>
<line x1="732.55" y1="1718.95" x2="737.75" y2="1718.95" stroke="#333" stroke-width="1.4"/>
<text x="729.85" y="1725.95" font-size="17.2" fill="#4D4D4D" text-anchor="end">phs000101</text>
<rect x="748.65" y="1731.05" width="147.60" height="19.80" fill="#6EBCE7"/>
<line x1="732.55" y1="1740.95" x2="737.75" y2="1740.95" stroke="#333" stroke-width="1.4"/>
<text x="729.85" y="1747.95" font-size="17.2" fill="#4D4D4D" text-anchor="end">Swedish-SCZ</text>
<rect x="748.65" y="1753.05" width="132.10" height="19.80" fill="#6EBCE7"/>
<line x1="732.55" y1="1762.95" x2="737.75" y2="1762.95" stroke="#333" stroke-width="1.4"/>
<text x="729.85" y="1769.95" font-size="17.2" fill="#4D4D4D" text-anchor="end">MIGen</text>
<rect x="748.65" y="1775.05" width="123.85" height="19.80" fill="#6EBCE7"/>
<line x1="732.55" y1="1784.95" x2="737.75" y2="1784.95" stroke="#333" stroke-width="1.4"/>
<text x="729.85" y="1791.95" font-size="17.2" fill="#4D4D4D" text-anchor="end">WHI-Exome</text>
<rect x="748.65" y="1797.05" width="107.85" height="19.80" fill="#6EBCE7"/>
<line x1="732.55" y1="1806.95" x2="737.75" y2="1806.95" stroke="#333" stroke-width="1.4"/>
<text x="729.85" y="1813.95" font-size="17.2" fill="#4D4D4D" text-anchor="end">CHARGE-ESP</text>
<line x1="953.49" y1="1820.05" x2="953.49" y2="1441.25" stroke="#000" stroke-width="1.6" stroke-dasharray="6.3,6.9"/>
<line x1="737.25" y1="1441.25" x2="737.25" y2="1820.80" stroke="#000" stroke-width="1.5"/>
<line x1="737.25" y1="1820.05" x2="987.50" y2="1820.05" stroke="#000" stroke-width="1.5"/>
<line x1="748.65" y1="1820.05" x2="748.65" y2="1825.05" stroke="#333" stroke-width="1.3"/>
<text x="748.65" y="1840.55" font-size="17.2" fill="#4D4D4D" text-anchor="middle">0.00</text>
<line x1="805.55" y1="1820.05" x2="805.55" y2="1825.05" stroke="#333" stroke-width="1.3"/>
<text x="805.55" y="1840.55" font-size="17.2" fill="#4D4D4D" text-anchor="middle">0.25</text>
<line x1="862.45" y1="1820.05" x2="862.45" y2="1825.05" stroke="#333" stroke-width="1.3"/>
<text x="862.45" y="1840.55" font-size="17.2" fill="#4D4D4D" text-anchor="middle">0.50</text>
<line x1="919.35" y1="1820.05" x2="919.35" y2="1825.05" stroke="#333" stroke-width="1.3"/>
<text x="919.35" y="1840.55" font-size="17.2" fill="#4D4D4D" text-anchor="middle">0.75</text>
<line x1="976.25" y1="1820.05" x2="976.25" y2="1825.05" stroke="#333" stroke-width="1.3"/>
<text x="976.25" y="1840.55" font-size="17.2" fill="#4D4D4D" text-anchor="middle">1.00</text>
<text x="614.10" y="1863.50" font-size="21.5" fill="#000" text-anchor="middle">callRate</text>
<rect x="1292.90" y="1030.00" width="306.20" height="28.20" fill="#fff" stroke="#1A1A1A" stroke-width="1.4"/>
<text x="1446.00" y="1050.70" font-size="18.2" fill="#1A1A1A" text-anchor="middle">ANXA11 (p.G38R)</text>
<line x1="1306.30" y1="1393.00" x2="1306.30" y2="1058.20" stroke="#000" stroke-width="1.5" stroke-dasharray="5.8,6.37"/>
<line x1="1292.90" y1="1058.20" x2="1292.90" y2="1393.70" stroke="#1A1A1A" stroke-width="1.4"/>
<line x1="1292.20" y1="1393.00" x2="1599.10" y2="1393.00" stroke="#1A1A1A" stroke-width="1.4"/>
<line x1="1306.30" y1="1393.00" x2="1306.30" y2="1397.00" stroke="#333" stroke-width="1.3"/>
<text x="1306.30" y="1412.00" font-size="16" fill="#4D4D4D" text-anchor="middle">1</text>
<line x1="1451.40" y1="1393.00" x2="1451.40" y2="1397.00" stroke="#333" stroke-width="1.3"/>
<text x="1451.40" y="1412.00" font-size="16" fill="#4D4D4D" text-anchor="middle">4</text>
<line x1="1596.50" y1="1393.00" x2="1596.50" y2="1397.00" stroke="#333" stroke-width="1.3"/>
<text x="1596.50" y="1412.00" font-size="16" fill="#4D4D4D" text-anchor="middle">16</text>
<line x1="1287.40" y1="1149.51" x2="1292.90" y2="1149.51" stroke="#333" stroke-width="1.3"/>
<text x="1285.30" y="1156.11" font-size="18.3" fill="#4D4D4D" text-anchor="end">cohorts cr&gt;0.9 (P = 2.49e-07)</text>
<line x1="1436.10" y1="1149.51" x2="1585.70" y2="1149.51" stroke="#1A1A1A" stroke-width="1.45"/>
<circle cx="1510.30" cy="1149.51" r="6.8" fill="#000"/>
<line x1="1287.40" y1="1301.69" x2="1292.90" y2="1301.69" stroke="#333" stroke-width="1.3"/>
<text x="1285.30" y="1308.29" font-size="18.3" fill="#4D4D4D" text-anchor="end">all cohorts (P = 2.73e-07)</text>
<line x1="1430.00" y1="1301.69" x2="1570.60" y2="1301.69" stroke="#1A1A1A" stroke-width="1.45"/>
<circle cx="1499.90" cy="1301.69" r="6.8" fill="#000"/>
<rect x="1853.40" y="1030.00" width="306.00" height="28.20" fill="#fff" stroke="#1A1A1A" stroke-width="1.4"/>
<text x="2006.40" y="1050.70" font-size="18.2" fill="#1A1A1A" text-anchor="middle">ARPP21 (p.P563L)</text>
<line x1="1866.70" y1="1393.00" x2="1866.70" y2="1058.20" stroke="#000" stroke-width="1.5" stroke-dasharray="5.8,6.37"/>
<line x1="1853.40" y1="1058.20" x2="1853.40" y2="1393.70" stroke="#1A1A1A" stroke-width="1.4"/>
<line x1="1852.70" y1="1393.00" x2="2159.40" y2="1393.00" stroke="#1A1A1A" stroke-width="1.4"/>
<line x1="1866.70" y1="1393.00" x2="1866.70" y2="1397.00" stroke="#333" stroke-width="1.3"/>
<text x="1866.70" y="1412.00" font-size="16" fill="#4D4D4D" text-anchor="middle">1</text>
<line x1="1930.88" y1="1393.00" x2="1930.88" y2="1397.00" stroke="#333" stroke-width="1.3"/>
<text x="1930.88" y="1412.00" font-size="16" fill="#4D4D4D" text-anchor="middle">4</text>
<line x1="1995.06" y1="1393.00" x2="1995.06" y2="1397.00" stroke="#333" stroke-width="1.3"/>
<text x="1995.06" y="1412.00" font-size="16" fill="#4D4D4D" text-anchor="middle">16</text>
<line x1="2059.24" y1="1393.00" x2="2059.24" y2="1397.00" stroke="#333" stroke-width="1.3"/>
<text x="2059.24" y="1412.00" font-size="16" fill="#4D4D4D" text-anchor="middle">64</text>
<line x1="2123.42" y1="1393.00" x2="2123.42" y2="1397.00" stroke="#333" stroke-width="1.3"/>
<text x="2123.42" y="1412.00" font-size="16" fill="#4D4D4D" text-anchor="middle">256</text>
<line x1="1847.90" y1="1149.51" x2="1853.40" y2="1149.51" stroke="#333" stroke-width="1.3"/>
<text x="1845.80" y="1156.11" font-size="18.3" fill="#4D4D4D" text-anchor="end">cohorts cr&gt;0.9 (P = 1.09e-08)</text>
<line x1="1968.20" y1="1149.51" x2="2138.90" y2="1149.51" stroke="#1A1A1A" stroke-width="1.45"/>
<circle cx="2035.40" cy="1149.51" r="6.8" fill="#000"/>
<line x1="1847.90" y1="1301.69" x2="1853.40" y2="1301.69" stroke="#333" stroke-width="1.3"/>
<text x="1845.80" y="1308.29" font-size="18.3" fill="#4D4D4D" text-anchor="end">all cohorts (P = 2.55e-10)</text>
<line x1="1977.10" y1="1301.69" x2="2145.90" y2="1301.69" stroke="#1A1A1A" stroke-width="1.45"/>
<circle cx="2042.90" cy="1301.69" r="6.8" fill="#000"/>
<rect x="1292.90" y="1423.80" width="306.20" height="28.00" fill="#fff" stroke="#1A1A1A" stroke-width="1.4"/>
<text x="1446.00" y="1444.40" font-size="18.2" fill="#1A1A1A" text-anchor="middle">NEK1 (c.868+1G&gt;C)</text>
<line x1="1306.00" y1="1786.70" x2="1306.00" y2="1451.80" stroke="#000" stroke-width="1.5" stroke-dasharray="5.8,6.37"/>
<line x1="1292.90" y1="1451.80" x2="1292.90" y2="1787.40" stroke="#1A1A1A" stroke-width="1.4"/>
<line x1="1292.20" y1="1786.70" x2="1599.10" y2="1786.70" stroke="#1A1A1A" stroke-width="1.4"/>
<line x1="1306.00" y1="1786.70" x2="1306.00" y2="1790.70" stroke="#333" stroke-width="1.3"/>
<text x="1306.00" y="1805.70" font-size="16" fill="#4D4D4D" text-anchor="middle">1</text>
<line x1="1401.66" y1="1786.70" x2="1401.66" y2="1790.70" stroke="#333" stroke-width="1.3"/>
<text x="1401.66" y="1805.70" font-size="16" fill="#4D4D4D" text-anchor="middle">4</text>
<line x1="1497.32" y1="1786.70" x2="1497.32" y2="1790.70" stroke="#333" stroke-width="1.3"/>
<text x="1497.32" y="1805.70" font-size="16" fill="#4D4D4D" text-anchor="middle">16</text>
<line x1="1592.98" y1="1786.70" x2="1592.98" y2="1790.70" stroke="#333" stroke-width="1.3"/>
<text x="1592.98" y="1805.70" font-size="16" fill="#4D4D4D" text-anchor="middle">64</text>
<line x1="1287.40" y1="1543.14" x2="1292.90" y2="1543.14" stroke="#333" stroke-width="1.3"/>
<text x="1285.30" y="1549.74" font-size="18.3" fill="#4D4D4D" text-anchor="end">cohorts cr&gt;0.9 (P = 4.49e-05)</text>
<line x1="1397.60" y1="1543.14" x2="1581.10" y2="1543.14" stroke="#1A1A1A" stroke-width="1.45"/>
<circle cx="1482.10" cy="1543.14" r="6.8" fill="#000"/>
<line x1="1287.40" y1="1695.36" x2="1292.90" y2="1695.36" stroke="#333" stroke-width="1.3"/>
<text x="1285.30" y="1701.96" font-size="18.3" fill="#4D4D4D" text-anchor="end">all cohorts (P = 2.36e-05)</text>
<line x1="1403.70" y1="1695.36" x2="1585.50" y2="1695.36" stroke="#1A1A1A" stroke-width="1.45"/>
<circle cx="1487.00" cy="1695.36" r="6.8" fill="#000"/>
<rect x="1853.40" y="1423.80" width="306.00" height="28.00" fill="#fff" stroke="#1A1A1A" stroke-width="1.4"/>
<text x="2006.40" y="1444.40" font-size="18.2" fill="#1A1A1A" text-anchor="middle">UBQLN2 (p.P509S)</text>
<line x1="1866.70" y1="1786.70" x2="1866.70" y2="1451.80" stroke="#000" stroke-width="1.5" stroke-dasharray="5.8,6.37"/>
<line x1="1853.40" y1="1451.80" x2="1853.40" y2="1787.40" stroke="#1A1A1A" stroke-width="1.4"/>
<line x1="1852.70" y1="1786.70" x2="2159.40" y2="1786.70" stroke="#1A1A1A" stroke-width="1.4"/>
<line x1="1866.70" y1="1786.70" x2="1866.70" y2="1790.70" stroke="#333" stroke-width="1.3"/>
<text x="1866.70" y="1805.70" font-size="16" fill="#4D4D4D" text-anchor="middle">1</text>
<line x1="1907.86" y1="1786.70" x2="1907.86" y2="1790.70" stroke="#333" stroke-width="1.3"/>
<text x="1907.86" y="1805.70" font-size="16" fill="#4D4D4D" text-anchor="middle">4</text>
<line x1="1949.02" y1="1786.70" x2="1949.02" y2="1790.70" stroke="#333" stroke-width="1.3"/>
<text x="1949.02" y="1805.70" font-size="16" fill="#4D4D4D" text-anchor="middle">16</text>
<line x1="1990.18" y1="1786.70" x2="1990.18" y2="1790.70" stroke="#333" stroke-width="1.3"/>
<text x="1990.18" y="1805.70" font-size="16" fill="#4D4D4D" text-anchor="middle">64</text>
<line x1="2031.34" y1="1786.70" x2="2031.34" y2="1790.70" stroke="#333" stroke-width="1.3"/>
<text x="2031.34" y="1805.70" font-size="16" fill="#4D4D4D" text-anchor="middle">256</text>
<line x1="2072.50" y1="1786.70" x2="2072.50" y2="1790.70" stroke="#333" stroke-width="1.3"/>
<text x="2072.50" y="1805.70" font-size="16" fill="#4D4D4D" text-anchor="middle">1024</text>
<line x1="2113.66" y1="1786.70" x2="2113.66" y2="1790.70" stroke="#333" stroke-width="1.3"/>
<text x="2113.66" y="1805.70" font-size="16" fill="#4D4D4D" text-anchor="middle">4096</text>
<line x1="2154.82" y1="1786.70" x2="2154.82" y2="1790.70" stroke="#333" stroke-width="1.3"/>
<line x1="1847.90" y1="1543.14" x2="1853.40" y2="1543.14" stroke="#333" stroke-width="1.3"/>
<text x="1845.80" y="1549.74" font-size="18.3" fill="#4D4D4D" text-anchor="end">cohorts cr&gt;0.9 (P = 4.83e-06)</text>
<line x1="1927.20" y1="1543.14" x2="2134.70" y2="1543.14" stroke="#1A1A1A" stroke-width="1.45"/>
<circle cx="1989.90" cy="1543.14" r="6.8" fill="#000"/>
<line x1="1847.90" y1="1695.36" x2="1853.40" y2="1695.36" stroke="#333" stroke-width="1.3"/>
<text x="1845.80" y="1701.96" font-size="18.3" fill="#4D4D4D" text-anchor="end">all cohorts (P = 4.11e-07)</text>
<line x1="1938.80" y1="1695.36" x2="2145.80" y2="1695.36" stroke="#1A1A1A" stroke-width="1.45"/>
<circle cx="2001.30" cy="1695.36" r="6.8" fill="#000"/>
<text x="1658.41" y="1829.30" font-size="22" fill="#000" text-anchor="start" textLength="136.26" lengthAdjust="spacing">OR + 95% CI</text>
</svg>
</body></html>
